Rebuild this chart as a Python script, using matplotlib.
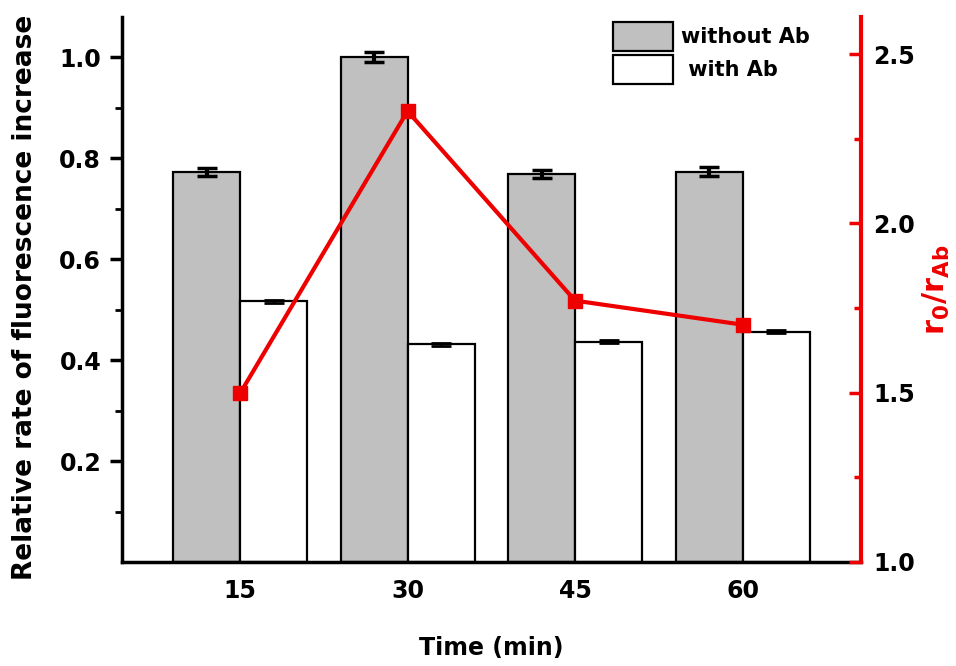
import matplotlib
matplotlib.use("Agg")
import matplotlib.pyplot as plt
import numpy as np

times = [15, 30, 45, 60]
without_ab = [0.773, 1.001, 0.768, 0.773]
without_ab_err = [0.008, 0.010, 0.008, 0.009]
with_ab = [0.517, 0.431, 0.436, 0.456]
with_ab_err = [0.003, 0.003, 0.003, 0.003]
ratio = [1.498, 2.332, 1.772, 1.701]

plt.rcParams['font.family'] = ['DejaVu Sans']
plt.rcParams['font.weight'] = 'bold'
plt.rcParams['mathtext.default'] = 'bf'

RED = '#ee0000'

fig = plt.figure(figsize=(9.56, 6.66), dpi=100)
ax = fig.add_axes([0.1276, 0.1562, 0.7730, 0.8183])
x = np.array(times, dtype=float)
w = 6.0
ax.bar(x - w/2, without_ab, width=w, color='#c0c0c0', edgecolor='black', linewidth=1.6,
       label='without Ab', zorder=2)
ax.bar(x + w/2, with_ab, width=w, color='white', edgecolor='black', linewidth=1.6,
       label=' with Ab', zorder=2)
ax.errorbar(x - w/2, without_ab, yerr=without_ab_err, fmt='none', ecolor='black',
            elinewidth=3, capsize=7, capthick=2.5, zorder=3)
ax.errorbar(x + w/2, with_ab, yerr=with_ab_err, fmt='none', ecolor='black',
            elinewidth=2, capsize=7, capthick=2, zorder=3)

ax.set_xlim(4.43, 70.6)
ax.set_ylim(0, 1.08)
ax.set_xticks(times)
ax.set_xticklabels([str(t) for t in times])
ax.set_yticks([0.2, 0.4, 0.6, 0.8, 1.0])
ax.set_yticks(np.arange(0.1, 1.05, 0.1), minor=True)
ax.tick_params(axis='x', length=0, labelsize=17, pad=12)
ax.tick_params(axis='y', which='major', direction='out', length=9, width=2.5, labelsize=17, pad=6)
ax.tick_params(axis='y', which='minor', direction='out', length=5, width=2)
ax.spines['top'].set_visible(False)
ax.spines['right'].set_visible(False)
ax.spines['left'].set_linewidth(2.5)
ax.spines['bottom'].set_linewidth(2.5)
ax.set_xlabel('Time (min)', fontsize=17, fontweight='bold', labelpad=24)
ax.set_ylabel('Relative rate of fluorescence increase', fontsize=19, fontweight='bold')
ax.yaxis.set_label_coords(-0.113, 0.486)

ax2 = ax.twinx()
ax2.plot(x, ratio, color=RED, linewidth=3, marker='s', markersize=10, zorder=4)
ax2.set_ylim(1.0, 2.61)
ax2.set_yticks([1.0, 1.5, 2.0, 2.5])
ax2.set_yticks([1.25, 1.75, 2.25], minor=True)
ax2.tick_params(axis='y', which='major', direction='in', length=9, width=2.5,
                color=RED, labelsize=17, pad=9)
ax2.tick_params(axis='y', which='minor', direction='in', length=5, width=2.5, color=RED)
for s in ['top', 'left', 'bottom']:
    ax2.spines[s].set_visible(False)
ax2.spines['right'].set_color(RED)
ax2.spines['right'].set_linewidth(3)
ax2.set_ylabel(r'$\mathbf{r_0/r_{Ab}}$', color=RED, fontsize=22, labelpad=4)

leg = ax.legend(loc='upper left', bbox_to_anchor=(0.647, 1.014), frameon=False,
                fontsize=15, handlelength=2.9, handleheight=1.75, handletextpad=0.4,
                labelspacing=0.2, borderaxespad=0.2)

fig.savefig('out.png', dpi=100)
